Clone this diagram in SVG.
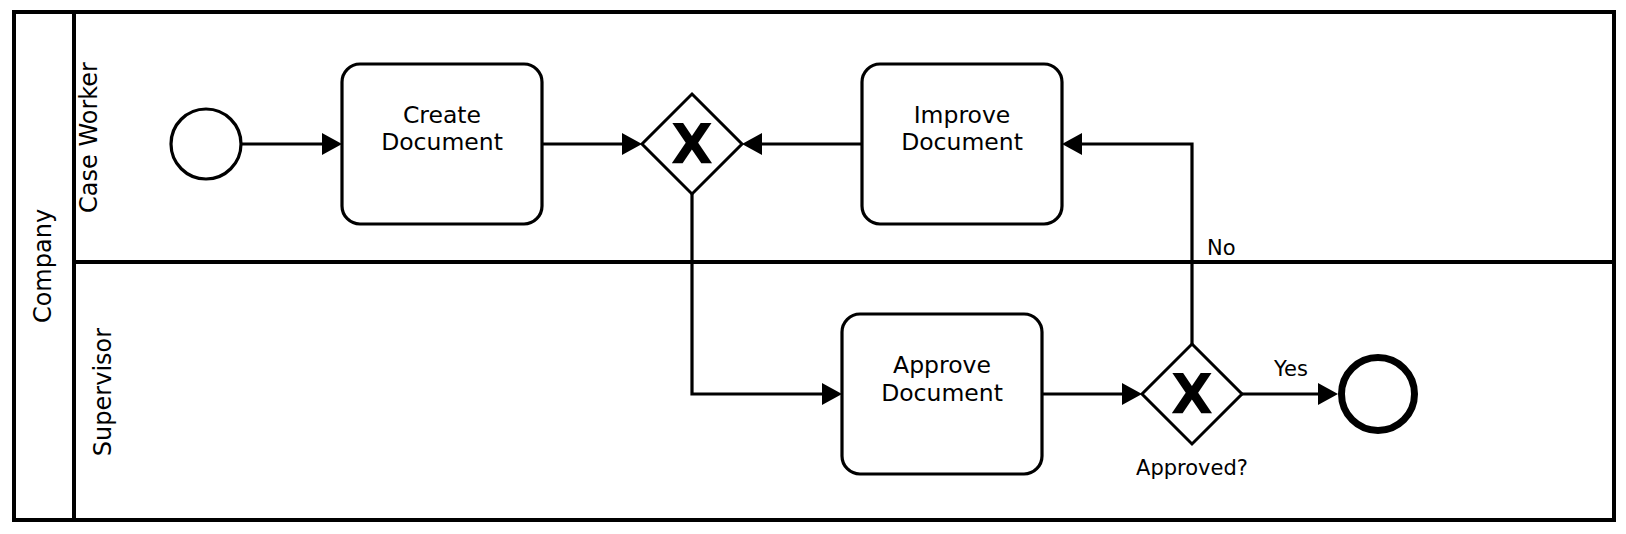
<svg xmlns="http://www.w3.org/2000/svg" width="1626" height="534" viewBox="0 0 1626 534">
  <style>
    text { font-family: "DejaVu Sans", "Liberation Sans", sans-serif; fill: #000; }
    .pool { fill: #fff; stroke: #000; stroke-width: 4; }
    .lane { fill: none; stroke: #000; stroke-width: 4; }
    .task { fill: #fff; stroke: #000; stroke-width: 3.2; }
    .gw { fill: #fff; stroke: #000; stroke-width: 3; stroke-linejoin: miter; }
    .start { fill: #fff; stroke: #000; stroke-width: 3.2; }
    .end { fill: #fff; stroke: #000; stroke-width: 7; }
    .flow { fill: none; stroke: #000; stroke-width: 3.2; marker-end: url(#arrow); }
    .hdr { font-size: 24px; text-anchor: middle; }
    .lbl { font-size: 23.5px; text-anchor: middle; }
    .mark { font-size: 55px; font-weight: bold; text-anchor: middle; }
    .cond { font-size: 21px; }
  </style>
  <defs>
    <marker id="arrow" markerUnits="userSpaceOnUse" markerWidth="22" markerHeight="24" viewBox="0 0 22 24" refX="2" refY="11" orient="auto">
      <path d="M0,0 L20,11 L0,22 z" fill="#000"/>
    </marker>
  </defs>

  <g id="pool">
    <rect class="pool" x="14" y="12" width="1600" height="508"/>
    <line class="lane" x1="74" y1="12" x2="74" y2="520"/>
    <line class="lane" x1="74" y1="262" x2="1614" y2="262"/>
    <text class="hdr" transform="translate(50.5,266) rotate(-90)">Company</text>
  </g>
  <g id="lane-caseworker">
    <text class="hdr" transform="translate(97,137.5) rotate(-90)">Case Worker</text>
  </g>
  <g id="lane-supervisor">
    <text class="hdr" transform="translate(111,392) rotate(-90)">Supervisor</text>
  </g>

  <g id="connectors">
    <path class="flow" d="M241,144 L324,144"/>
    <path class="flow" d="M542,144 L624,144"/>
    <path class="flow" d="M862,144 L760,144"/>
    <path class="flow" d="M692,194 L692,394 L824,394"/>
    <path class="flow" d="M1042,394 L1124,394"/>
    <path class="flow" d="M1242,394 L1320,394"/>
    <path class="flow" d="M1192,344 L1192,144 L1080,144"/>
    <text class="cond" x="1207" y="255">No</text>
    <text class="cond" x="1291" y="376" text-anchor="middle">Yes</text>
  </g>

  <g id="start-event">
    <circle class="start" cx="206" cy="144" r="35"/>
  </g>
  <g id="task-create">
    <rect class="task" x="342" y="64" width="200" height="160" rx="18" ry="18"/>
    <text class="lbl" x="442" y="123">Create</text>
    <text class="lbl" x="442" y="150">Document</text>
  </g>
  <g id="gateway-merge">
    <polygon class="gw" points="692,94 742,144 692,194 642,144"/>
    <text class="mark" x="692" y="163">X</text>
  </g>
  <g id="task-improve">
    <rect class="task" x="862" y="64" width="200" height="160" rx="18" ry="18"/>
    <text class="lbl" x="962" y="123">Improve</text>
    <text class="lbl" x="962" y="150">Document</text>
  </g>
  <g id="task-approve">
    <rect class="task" x="842" y="314" width="200" height="160" rx="18" ry="18"/>
    <text class="lbl" x="942" y="373">Approve</text>
    <text class="lbl" x="942" y="401">Document</text>
  </g>
  <g id="gateway-approved">
    <polygon class="gw" points="1192,344 1242,394 1192,444 1142,394"/>
    <text class="mark" x="1192" y="413">X</text>
    <text class="cond" x="1192" y="475" text-anchor="middle">Approved?</text>
  </g>
  <g id="end-event">
    <circle class="end" cx="1378" cy="394" r="36.5"/>
  </g>
</svg>
